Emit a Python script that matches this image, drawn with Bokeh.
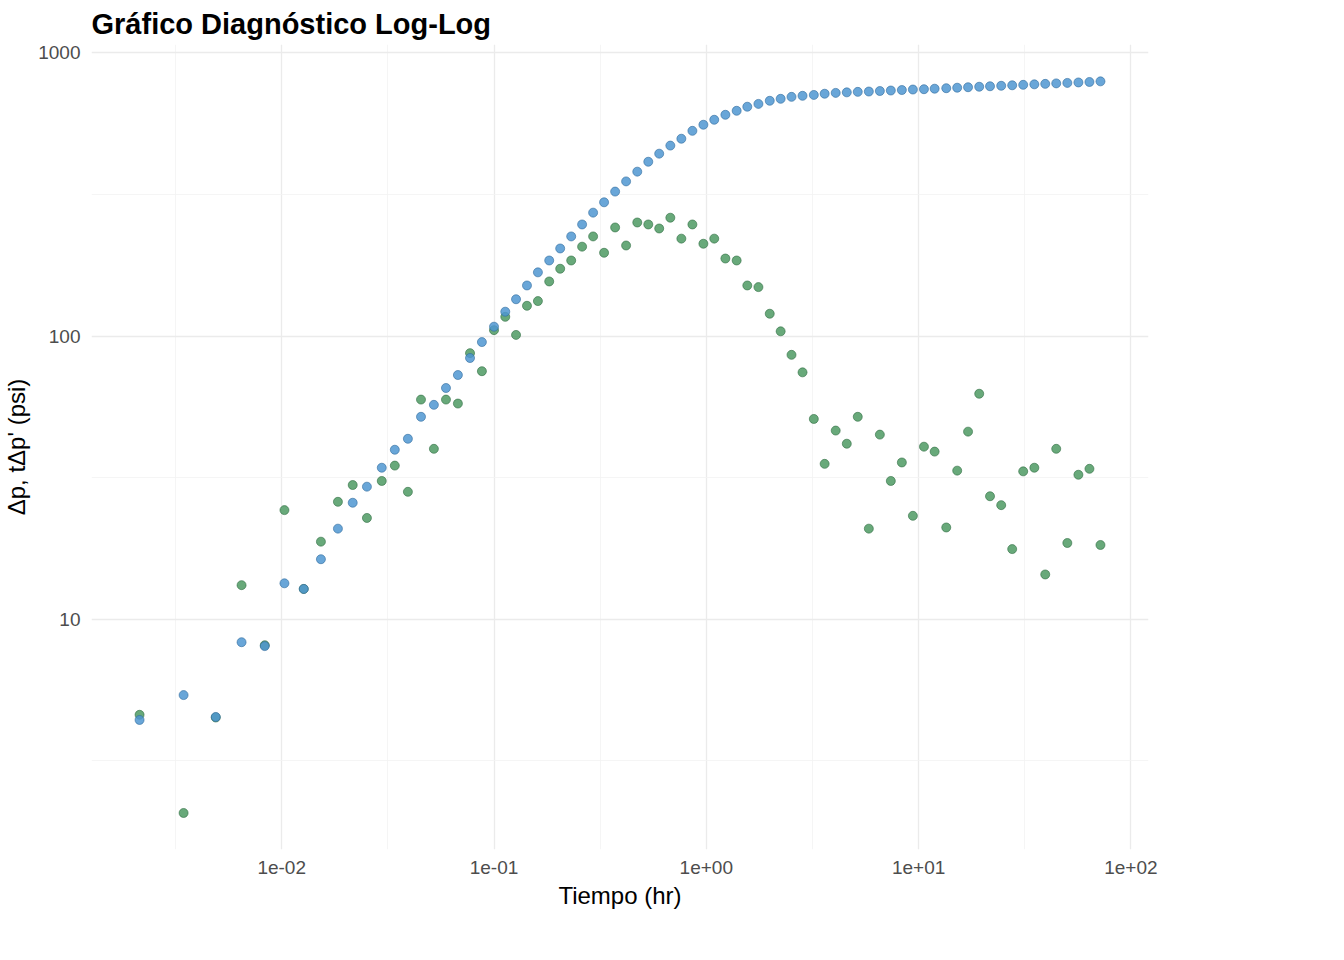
from bokeh.plotting import figure
from bokeh.models import ColumnDataSource, FixedTicker, Legend, LegendItem, Range1d, CustomJSTickFormatter
from bokeh.embed import file_html
from bokeh.resources import INLINE

tiempo = [0.00214, 0.00345, 0.00489, 0.00647, 0.00832, 0.0103, 0.0127, 0.0153, 0.0184, 0.0216,
          0.0252, 0.0296, 0.0341, 0.0393, 0.0453, 0.0521, 0.0594, 0.0676, 0.0771, 0.0877, 0.100,
          0.113, 0.127, 0.143, 0.161, 0.182, 0.205, 0.231, 0.260, 0.293, 0.330, 0.372, 0.419, 0.473,
          0.533, 0.600, 0.677, 0.763, 0.860, 0.969, 1.09, 1.23, 1.39, 1.56, 1.76, 1.99, 2.24, 2.52,
          2.84, 3.21, 3.61, 4.07, 4.59, 5.17, 5.83, 6.57, 7.40, 8.34, 9.40, 10.6, 11.9, 13.5, 15.2,
          17.1, 19.3, 21.7, 24.5, 27.6, 31.1, 35.1, 39.5, 44.5, 50.2, 56.6, 63.8, 71.9]
dp = [4.41, 5.40, 4.52, 8.30, 8.04, 13.4, 12.8, 16.3, 20.9, 25.8, 29.4, 34.3, 39.7, 43.4, 51.9,
      57.2, 65.6, 72.9, 83.7, 95.3, 108,
      122, 135, 151, 168, 185, 204, 225, 248, 273, 297, 324, 352, 381, 413, 441, 471, 498, 531,
      558, 581, 605, 625, 646, 661, 678, 689, 700, 706, 711, 718, 723,
      726, 729, 731, 734, 737, 740, 743, 745, 748, 751, 754, 757, 760, 763, 766, 769, 772, 775,
      778, 781, 784, 787, 790, 794]
tdp = [4.6, 2.07, 4.5, 13.2, 8.1, 24.3, 12.8, 18.8, 26.0, 29.8, 22.8, 30.8, 34.9, 28.2, 59.7,
       40.0, 59.7, 57.8, 87.1, 75.2, 105,
       117, 101, 128, 133, 156, 173, 185, 207, 225, 197, 242, 209, 252, 248, 240, 262, 221, 248,
       212, 221, 188, 185, 151, 149, 120, 104, 85.9, 74.5, 51.0, 35.4, 46.4, 41.7, 51.9, 20.9,
       44.9, 30.8, 35.8, 23.2, 40.7, 39.1, 21.1, 33.5, 46.0, 62.6, 27.2, 25.3, 17.7, 33.3, 34.3,
       14.4, 40.0, 18.6, 32.4, 34.0, 18.3]

x_major = [1e-2, 1e-1, 1e0, 1e1, 1e2]
x_minor = [10**-2.5, 10**-1.5, 10**-0.5, 10**0.5, 10**1.5]
y_major = [10, 100, 1000]
y_minor = [10**0.5, 10**1.5, 10**2.5]

src = ColumnDataSource(dict(t=tiempo, dp=dp, tdp=tdp))

p = figure(frame_width=1057, frame_height=805, x_axis_type="log", y_axis_type="log",
           output_backend="svg", toolbar_location=None,
           x_range=Range1d(10**-2.896, 10**2.083), y_range=Range1d(10**0.187, 10**3.03),
           title="Gráfico Diagnóstico Log-Log", min_border_left=10, min_border_right=10,
           min_border_top=10, min_border_bottom=10)
p.title.text_font = "Liberation Sans"
p.title.text_font_size = "29px"
p.title.text_font_style = "bold"
p.title.text_color = "black"
p.outline_line_color = None
p.background_fill_color = "white"

g = p.scatter("t", "tdp", source=src, size=9, fill_color="#4e9a63", fill_alpha=0.85,
              line_color="#2e6b40", line_width=0.6)
b = p.scatter("t", "dp", source=src, size=9, fill_color="#4f97d1", fill_alpha=0.85,
              line_color="#2f6a9c", line_width=0.6)

p.xaxis.ticker = FixedTicker(ticks=x_major)
p.yaxis.ticker = FixedTicker(ticks=y_major)
p.xaxis.formatter = CustomJSTickFormatter(code="""
const e = Math.round(Math.log10(tick));
const s = e < 0 ? '-' : '+';
const a = Math.abs(e);
return '1e' + s + (a < 10 ? '0' + a : a);
""")
p.yaxis.formatter = CustomJSTickFormatter(code="return String(Math.round(tick));")
for ax in (p.xaxis, p.yaxis):
    ax.axis_line_color = None
    ax.major_tick_line_color = None
    ax.minor_tick_line_color = None
    ax.major_label_text_font = "Liberation Sans"
    ax.major_label_text_font_size = "19px"
    ax.major_label_text_color = "#4d4d4d"
    ax.axis_label_text_font = "Liberation Sans"
    ax.axis_label_text_font_size = "24px"
    ax.axis_label_text_font_style = "normal"
    ax.axis_label_text_color = "black"
p.xaxis.axis_label = "Tiempo (hr)"
p.yaxis.axis_label = "Δp, tΔp' (psi)"

p.xgrid.ticker = FixedTicker(ticks=x_major, minor_ticks=x_minor)
p.ygrid.ticker = FixedTicker(ticks=y_major, minor_ticks=y_minor)
for gr in (p.xgrid, p.ygrid):
    gr.grid_line_color = "#ebebeb"
    gr.grid_line_width = 1.3
    gr.minor_grid_line_color = "#f3f3f3"
    gr.minor_grid_line_width = 0.8

leg = Legend(items=[LegendItem(label="tΔp'", renderers=[g]), LegendItem(label="Δp", renderers=[b])],
             location="center", border_line_color=None, label_text_font="Liberation Sans",
             label_text_font_size="19px", spacing=14, glyph_width=22, margin=30)
p.add_layout(leg, "right")

open("out.html", "w").write(file_html(p, INLINE))
